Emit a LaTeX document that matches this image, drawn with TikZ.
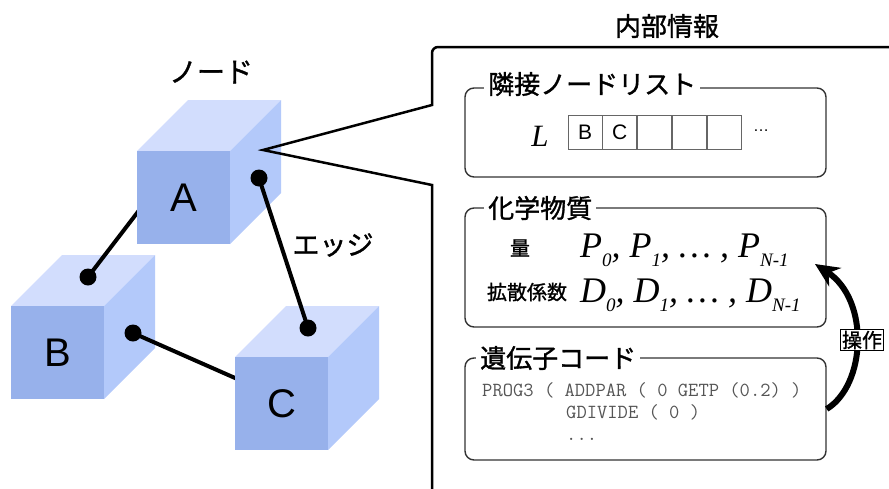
\documentclass[tikz,border=0pt]{standalone}
\usepackage{fontspec}
\usepackage{tikz}
\usetikzlibrary{arrows.meta}
\setmainfont{Liberation Sans}
\newfontfamily\jp{Noto Sans CJK JP}[FakeBold=1.2]
\newfontfamily\tms{Liberation Serif}
\definecolor{cubefront}{HTML}{97B1EB}
\definecolor{cubeside}{HTML}{B3C9FA}
\definecolor{cubetop}{HTML}{D2DDFD}
\definecolor{codegray}{HTML}{555555}
\newcommand{\fs}[1]{\fontsize{#1}{#1}\selectfont}
\newcommand{\sbs}[1]{\raisebox{-9pt}{\fs{19}#1}}
% name, x, y of front top-left corner, label
\newcommand{\cubebox}[4]{%
  \fill[cubetop] (#2,#3) -- ++(51,-51) -- ++(93,0) -- ++(-51,51) -- cycle;
  \fill[cubeside] (#2+93,#3) -- ++(51,-51) -- ++(0,93) -- ++(-51,51) -- cycle;
  \node[frontface] (#1) at (#2+46.5,#3+46.5) {#4};
}

\begin{document}
\begin{tikzpicture}[x=1pt,y=-1pt,
  frontface/.style={fill=cubefront,minimum width=93pt,minimum height=93pt,inner sep=0pt,font=\fs{40}},
  edge/.style={line width=4pt},
  panel/.style={draw=black!80,line width=1.4pt,rounded corners=9pt,minimum width=361pt,inner sep=0pt},
  paneltitle/.style={fill=white,inner sep=4pt,anchor=west,font=\jp\fs{26}},
  cellbox/.style={draw=black!60,line width=0.8pt,minimum width=34pt,minimum height=34pt,inner sep=0pt,font=\fs{21}},
  codeline/.style={anchor=base west,inner sep=0pt,text=codegray,font=\ttfamily\fs{20}}]
\useasboundingbox (0,0) rectangle (889,488);

% nodes and edges
\coordinate (dAB) at (88,277);
\coordinate (dBC) at (133,333);
\coordinate (dA) at (259,178);
\coordinate (dC) at (308,328);
\coordinate (hA) at (160,183);
\coordinate (hC) at (260,389);
\cubebox{B}{11}{306}{B}
\draw[edge] (dAB) -- (hA);
\draw[edge] (dBC) -- (hC);
\fill (dAB) circle (8.5);
\fill (dBC) circle (8.5);
\cubebox{A}{137}{151}{A}
\cubebox{C}{235}{357}{C}
\draw[edge] (dA) -- (dC);
\fill (dA) circle (8.5);
\fill (dC) circle (8.5);
\node[font=\jp\fs{28}] (nodelbl) at (211,72) {ノード};
\node[font=\jp\fs{27}] (edgelbl) at (333,245) {エッジ};

% callout
\node[font=\jp\fs{26}] (info) at (667,26) {内部情報};
\draw[line width=2.5pt,rounded corners=6pt] (900,47) -- (432,47) -- (432,80)
  [sharp corners] -- (432,105) -- (263,150) -- (432,185) -- (432,500);

% adjacency list
\node[panel,minimum height=89pt] (adjbox) at (645.5,132.5) {};
\node[paneltitle] (adjtitle) at (484,84) {隣接ノードリスト};
\node[font=\tms\itshape\fs{31}] (L) at (540,136) {L};
\node[cellbox] (cell1) at (585,132) {B};
\foreach \i/\t in {2/C,3/,4/,5/} {
  \pgfmathtruncatemacro\j{\i-1}
  \node[cellbox,anchor=west] (cell\i) at (cell\j.east) {\t};
}
\node[font=\fs{16}] (more) at (761,131) {\dots};

% chemicals
\node[panel,minimum height=119pt] (chembox) at (645.5,267.5) {};
\node[paneltitle] (chemtitle) at (484,208) {化学物質};
\node[font=\jp\fs{20}] (amt) at (520,248) {量};
\node[font=\jp\fs{20}] (diff) at (527,292) {拡散係数};
\node[anchor=base west,inner sep=0pt,font=\tms\itshape\fs{36}] (plist) at (580,257)
  {P\sbs{0}, P\sbs{1}, \dots\ , P\sbs{N-1}};
\node[anchor=base west,inner sep=0pt,font=\tms\itshape\fs{36}] (dlist) at (580,302)
  {D\sbs{0}, D\sbs{1}, \dots\ , D\sbs{N-1}};

% genetic code
\node[panel,minimum height=102pt] (genebox) at (645.5,409) {};
\node[paneltitle] (genetitle) at (476,358) {遺伝子コード};
\node[codeline] (code1) at (482,396) {PROG3 ( ADDPAR ( 0 GETP (0.2) )};
\node[codeline] (code2) at (566,418) {GDIVIDE ( 0 )};
\node[codeline] (code3) at (566,440) {...};

% operation arrow
\coordinate (optip) at (815,264);
\draw[line width=6pt,-{Stealth[length=24pt,width=22pt]}] (genebox.east) .. controls (866,385) and (870,300) .. (optip);
\node[draw,line width=0.8pt,fill=white,inner sep=1.5pt,font=\jp\fs{20}] (op) at (862,340) {操作};
\end{tikzpicture}
\end{document}
